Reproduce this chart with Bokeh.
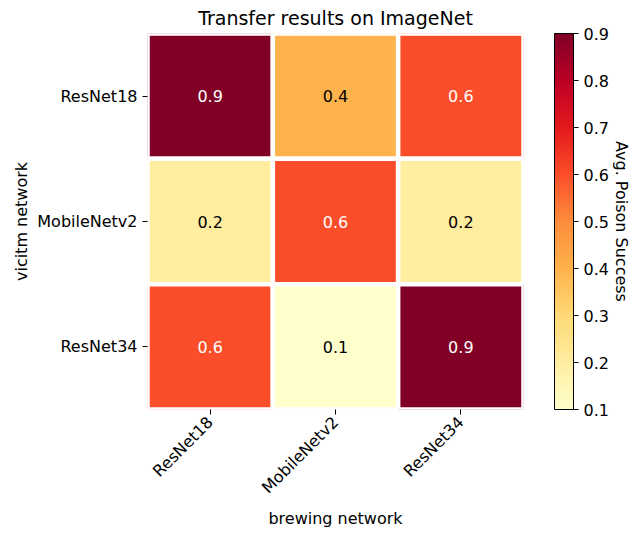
import math
from bokeh.plotting import figure
from bokeh.models import (ColumnDataSource, LinearColorMapper, ColorBar, FixedTicker,
                          PrintfTickFormatter, Title, FactorRange)
from bokeh.palettes import YlOrRd
from bokeh.embed import file_html
from bokeh.resources import INLINE
from bokeh.core.properties import value

# ---- data ----
brewing = ["ResNet18", "MobileNetv2", "ResNet34"]
victim = ["ResNet18", "MobileNetv2", "ResNet34"]
success_resnet18 = [0.9, 0.4, 0.6]
success_mobilenetv2 = [0.2, 0.6, 0.2]
success_resnet34 = [0.6, 0.1, 0.9]
cbar_ticks = [0.1, 0.2, 0.3, 0.4, 0.5, 0.6, 0.7, 0.8, 0.9]
vmin, vmax = 0.1, 0.9

rows = {"ResNet18": success_resnet18, "MobileNetv2": success_mobilenetv2, "ResNet34": success_resnet34}

# ---- colormap (matplotlib YlOrRd = linear interpolation of the 9-class brewer scale) ----
base = list(reversed(YlOrRd[9]))
def _rgb(h):
    h = h.lstrip("#")
    return [int(h[i:i + 2], 16) for i in (0, 2, 4)]
base_rgb = [_rgb(c) for c in base]
palette = []
N = 256
for i in range(N):
    t = i / (N - 1) * (len(base_rgb) - 1)
    k = min(int(t), len(base_rgb) - 2)
    f = t - k
    c = [round(base_rgb[k][j] * (1 - f) + base_rgb[k + 1][j] * f) for j in range(3)]
    palette.append("#%02x%02x%02x" % tuple(c))

mapper = LinearColorMapper(palette=palette, low=vmin, high=vmax)

xs, ys, vals, labels, tcolors = [], [], [], [], []
for v in victim:
    for b, val in zip(brewing, rows[v]):
        xs.append(b)
        ys.append(v)
        vals.append(val)
        labels.append("%.1f" % val)
        tcolors.append("white" if val > 0.5 else "black")

src = ColumnDataSource(dict(x=xs, y=ys, v=vals, label=labels, tc=tcolors))

FONT = "DejaVu Sans"
FS = "16px"

p = figure(frame_width=376, frame_height=376,
           x_range=FactorRange(factors=brewing),
           y_range=FactorRange(factors=list(reversed(victim))),
           output_backend="svg", toolbar_location=None,
           min_border_left=147, min_border_right=100,
           min_border_top=28, min_border_bottom=100)

p.rect(x="x", y="y", width=1, height=1, source=src,
       fill_color={"field": "v", "transform": mapper},
       line_color="white", line_width=4.5)

p.text(x="x", y="y", text="label", source=src, text_color="tc",
       text_align="center", text_baseline="middle",
       text_font_size=FS, text_font=value(FONT))

p.title.text = "Transfer results on ImageNet"
p.title.align = "center"
p.title.text_font = FONT
p.title.text_font_size = "19px"
p.title.text_font_style = "normal"
p.title.text_color = "black"
p.title.standoff = 9

p.outline_line_color = None
p.xgrid.grid_line_color = None
p.ygrid.grid_line_color = None

for ax in (p.xaxis[0], p.yaxis[0]):
    ax.axis_line_color = None
    ax.major_tick_line_color = "black"
    ax.major_tick_in = 0
    ax.major_tick_out = 5
    ax.major_label_standoff = 5
    ax.major_label_text_font = FONT
    ax.major_label_text_font_size = FS
    ax.major_label_text_color = "black"
    ax.axis_label_text_font = FONT
    ax.axis_label_text_font_size = FS
    ax.axis_label_text_font_style = "normal"
    ax.axis_label_text_color = "black"

p.xaxis.axis_label = "brewing network"
p.yaxis.axis_label = "vicitm network"
p.xaxis.major_label_orientation = math.pi / 4
p.xaxis.axis_label_standoff = 2
p.yaxis.axis_label_standoff = 3

cbar = ColorBar(color_mapper=mapper,
                ticker=FixedTicker(ticks=cbar_ticks),
                formatter=PrintfTickFormatter(format="%.1f"),
                width=19, location=(31, 0), padding=0,
                bar_line_color="black",
                major_tick_line_color="black", major_tick_in=0, major_tick_out=5,
                minor_tick_line_color=None,
                label_standoff=5,
                major_label_text_font=FONT,
                major_label_text_font_size=FS,
                major_label_text_color="black")
p.add_layout(cbar, "right")

p.add_layout(Title(text="Avg. Poison Success", align="center", standoff=0,
                   text_font=FONT, text_font_size=FS,
                   text_font_style="normal", text_color="black"), "right")

open("out.html", "w").write(file_html(p, INLINE))
